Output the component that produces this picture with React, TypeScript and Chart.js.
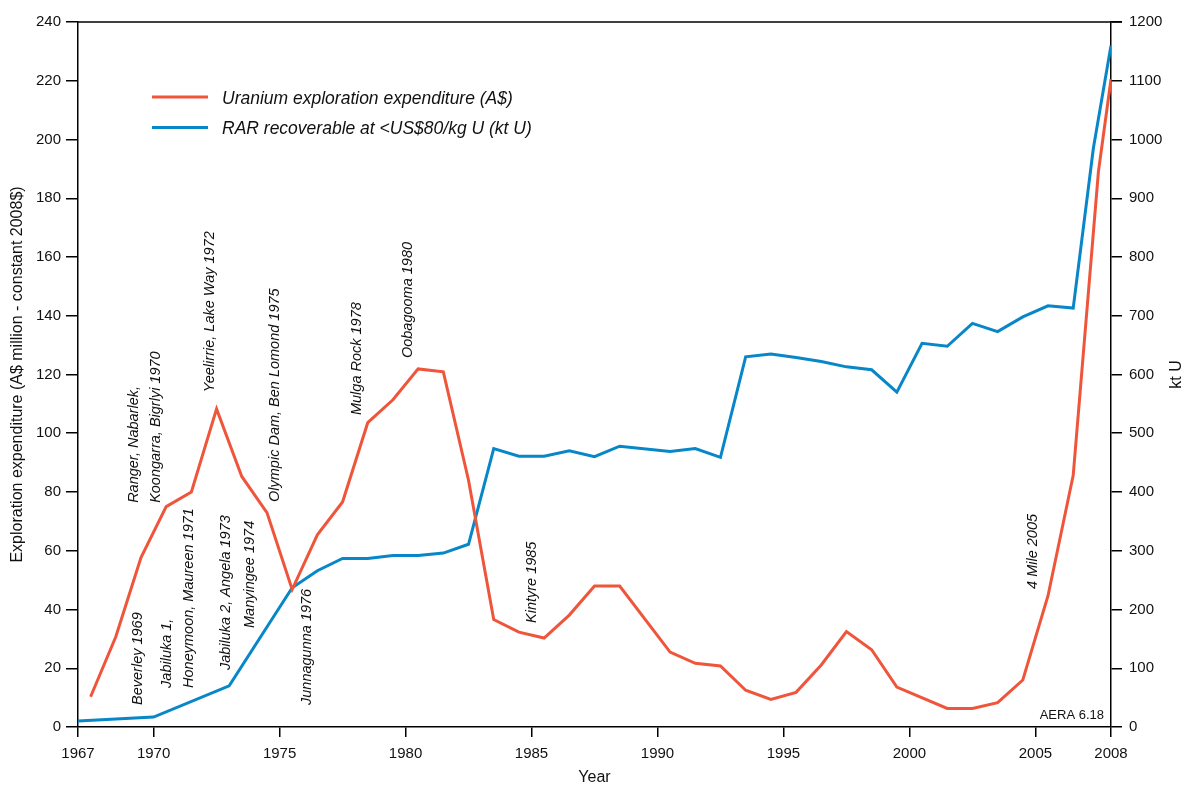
import React, { useEffect, useRef } from "react";
import { Chart, registerables } from "chart.js";

Chart.register(...registerables);

// ---- Data ----
const expenditureYears = [
  1967.5, 1968.5, 1969.5, 1970.5, 1971.5, 1972.5, 1973.5, 1974.5, 1975.5, 1976.5,
  1977.5, 1978.5, 1979.5, 1980.5, 1981.5, 1982.5, 1983.5, 1984.5, 1985.5, 1986.5,
  1987.5, 1988.5, 1990.5, 1991.5, 1992.5, 1993.5, 1994.5, 1995.5, 1996.5, 1997.5,
  1998.5, 1999.5, 2001.5, 2002.5, 2003.5, 2004.5, 2005.5, 2006.5, 2007.5, 2008,
];
const expenditureValues = [
  10.3, 30.7, 57.7, 75, 80, 108.3, 85.3, 73, 46.8, 65.4,
  76.6, 103.6, 111.4, 121.9, 120.9, 84, 36.6, 32.3, 30.3, 38.1,
  48, 48, 25.5, 21.7, 20.8, 12.5, 9.4, 11.8, 21.1, 32.5,
  26.3, 13.6, 6.3, 6.3, 8.3, 16, 44.7, 85.7, 189, 220.5,
];

const rarYears = [
  1967, 1970, 1973, 1975.5, 1976.5, 1977.5, 1978.5, 1979.5, 1980.5, 1981.5,
  1982.5, 1983.5, 1984.5, 1985.5, 1986.5, 1987.5, 1988.5, 1990.5, 1991.5, 1992.5,
  1993.5, 1994.5, 1995.5, 1996.5, 1997.5, 1998.5, 1999.5, 2000.5, 2001.5, 2002.5,
  2003.5, 2004.5, 2005.5, 2006.5, 2007.3, 2008,
];
const rarValues = [
  10, 17, 70, 237, 266, 287, 287, 292, 292, 296,
  311, 474, 461, 461, 470, 460, 478, 469, 474, 459,
  630, 635, 629, 622, 613, 608, 570, 653, 648, 687,
  673, 698, 717, 713, 985, 1160,
];

const xTickValues = [1967, 1970, 1975, 1980, 1985, 1990, 1995, 2000, 2005, 2008];

const seriesLabels = [
  "Uranium exploration expenditure (A$)",
  "RAR recoverable at <US$80/kg U (kt U)",
];

// Deposit discovery annotations: text lines, anchor year, anchor value (left axis)
const annotationLines = [
  ["Beverley 1969"],
  ["Jabiluka 1,", "Honeymoon, Maureen 1971"],
  ["Ranger, Nabarlek,", "Koongarra, Bigrlyi 1970"],
  ["Yeelirrie, Lake Way 1972"],
  ["Jabiluka 2, Angela 1973"],
  ["Manyingee 1974"],
  ["Olympic Dam, Ben Lomond 1975"],
  ["Junnagunna 1976"],
  ["Mulga Rock 1978"],
  ["Oobagooma 1980"],
  ["Kintyre 1985"],
  ["4 Mile 2005"],
];
const annotationYears = [1969.38, 1970.53, 1969.22, 1972.24, 1972.87, 1973.83, 1974.82, 1976.09, 1978.07, 1980.1, 1985.02, 2004.9];
const annotationValues = [7.5, 13.3, 76.3, 114, 19.4, 33.7, 76.6, 7.5, 106.2, 125.6, 35.4, 47];

const RED = "#ef553a";
const BLUE = "#0787c8";
const FONT = "'Liberation Sans', Arial, Helvetica, sans-serif";

const overlayPlugin = {
  id: "overlay",
  afterDraw(chart: any) {
    const { ctx, chartArea, scales } = chart;
    const xs = scales.x;
    const ys = scales.y;
    ctx.save();

    // top frame line
    ctx.strokeStyle = "#000";
    ctx.lineWidth = 1.5;
    ctx.beginPath();
    ctx.moveTo(chartArea.left, chartArea.top);
    ctx.lineTo(chartArea.right + 11, chartArea.top);
    ctx.stroke();

    // annotations
    ctx.fillStyle = "#111";
    ctx.font = `italic 14.5px ${FONT}`;
    ctx.textAlign = "left";
    ctx.textBaseline = "middle";
    annotationLines.forEach((lines, i) => {
      const px = xs.getPixelForValue(annotationYears[i]);
      const py = ys.getPixelForValue(annotationValues[i]);
      ctx.save();
      ctx.translate(px, py);
      ctx.rotate(-Math.PI / 2);
      lines.forEach((line, j) => ctx.fillText(line, 0, j * 22));
      ctx.restore();
    });

    // legend
    const lx = chartArea.left + 74;
    const ly = chartArea.top + 75;
    [RED, BLUE].forEach((c, i) => {
      const yy = ly + i * 30.5;
      ctx.strokeStyle = c;
      ctx.lineWidth = 3;
      ctx.beginPath();
      ctx.moveTo(lx, yy);
      ctx.lineTo(lx + 56, yy);
      ctx.stroke();
      ctx.fillStyle = "#111";
      ctx.font = `italic 17.5px ${FONT}`;
      ctx.textAlign = "left";
      ctx.textBaseline = "middle";
      ctx.fillText(seriesLabels[i], lx + 70, yy + 2);
    });

    // source label
    ctx.fillStyle = "#111";
    ctx.font = `13px ${FONT}`;
    ctx.textAlign = "right";
    ctx.textBaseline = "middle";
    ctx.fillText("AERA 6.18", chartArea.right - 7, chartArea.bottom - 12);

    // axis titles
    ctx.font = `16px ${FONT}`;
    ctx.textAlign = "center";
    ctx.textBaseline = "middle";
    ctx.save();
    ctx.translate(18, (chartArea.top + chartArea.bottom) / 2);
    ctx.rotate(-Math.PI / 2);
    ctx.fillText("Exploration expenditure (A$ million - constant 2008$)", 0, 0);
    ctx.restore();
    ctx.save();
    ctx.translate(1177, (chartArea.top + chartArea.bottom) / 2);
    ctx.rotate(-Math.PI / 2);
    ctx.fillText("kt U", 0, 0);
    ctx.restore();
    ctx.fillText("Year", (chartArea.left + chartArea.right) / 2, 778);

    ctx.restore();
  },
};

export default function App() {
  const canvasRef = useRef<HTMLCanvasElement | null>(null);

  useEffect(() => {
    if (!canvasRef.current) return;
    Chart.defaults.font.family = FONT;
    const chart = new Chart(canvasRef.current, {
      type: "line",
      data: {
        datasets: [
          {
            label: seriesLabels[0],
            data: expenditureYears.map((x, i) => ({ x, y: expenditureValues[i] })),
            borderColor: RED,
            backgroundColor: RED,
            borderWidth: 3,
            pointRadius: 0,
            tension: 0,
            yAxisID: "y",
          },
          {
            label: seriesLabels[1],
            data: rarYears.map((x, i) => ({ x, y: rarValues[i] })),
            borderColor: BLUE,
            backgroundColor: BLUE,
            borderWidth: 3,
            pointRadius: 0,
            tension: 0,
            yAxisID: "y1",
          },
        ],
      },
      options: {
        animation: false,
        responsive: false,
        devicePixelRatio: 1,
        layout: { padding: { top: 22, left: 0, right: 0, bottom: 0 } },
        plugins: { legend: { display: false }, tooltip: { enabled: false } },
        scales: {
          x: {
            type: "linear",
            min: 1967,
            max: 2008,
            afterBuildTicks: (s: any) => {
              s.ticks = xTickValues.map((v) => ({ value: v }));
            },
            afterFit: (s: any) => {
              s.height = 58;
            },
            ticks: {
              callback: (v: any) => String(v),
              autoSkip: false,
              maxRotation: 0,
              color: "#111",
              font: { size: 15 },
              padding: 8,
            },
            grid: { drawOnChartArea: false, tickLength: 10, color: "#000", lineWidth: 1.5 },
            border: { color: "#000", width: 1.5 },
          },
          y: {
            type: "linear",
            position: "left",
            min: 0,
            max: 240,
            afterFit: (s: any) => {
              s.width = 78;
            },
            ticks: { stepSize: 20, color: "#111", font: { size: 15 }, padding: 5, callback: (v: any) => String(v) },
            grid: { drawOnChartArea: false, tickLength: 12, color: "#000", lineWidth: 1.5 },
            border: { color: "#000", width: 1.5 },
          },
          y1: {
            type: "linear",
            position: "right",
            min: 0,
            max: 1200,
            afterFit: (s: any) => {
              s.width = 73;
            },
            ticks: { stepSize: 100, color: "#111", font: { size: 15 }, padding: 7, callback: (v: any) => String(v) },
            grid: { drawOnChartArea: false, tickLength: 11, color: "#000", lineWidth: 1.5 },
            border: { color: "#000", width: 1.5 },
          },
        },
      },
      plugins: [overlayPlugin],
    } as any);
    return () => chart.destroy();
  }, []);

  return (
    <div style={{ position: "absolute", left: 0, top: 0, width: 1184, height: 785, background: "#fff" }}>
      <canvas ref={canvasRef} width={1184} height={785} style={{ width: 1184, height: 785, display: "block" }} />
    </div>
  );
}
